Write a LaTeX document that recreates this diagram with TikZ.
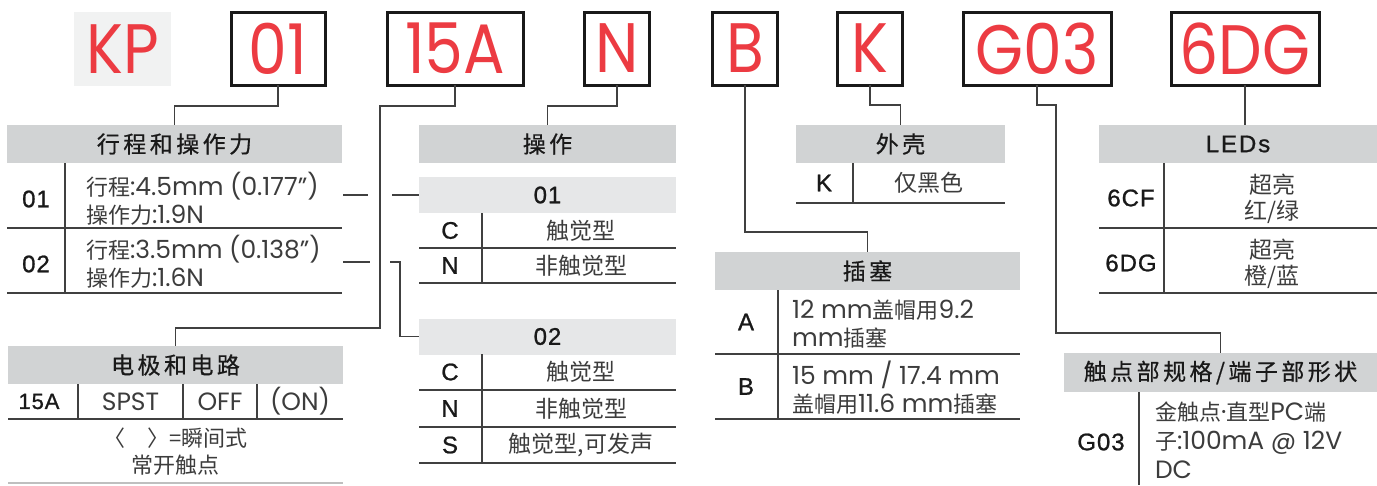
\documentclass[tikz,border=0pt]{standalone}
\usepackage{fontspec}
\usetikzlibrary{positioning}

\setmainfont{Poppins}
\newfontfamily\cjk{Noto Sans CJK SC}
\newfontfamily\cjkhdr{Noto Sans CJK SC}[LetterSpace=15, FakeBold=0.6]
\newfontfamily\codefont{Liberation Sans}[FakeBold=1, LetterSpace=4]
\newfontfamily\redfont{Poppins}[FakeStretch=0.88]
\newcommand\zh[1]{{\cjk\fontsize{22}{28}\selectfont #1}}

\definecolor{codered}{HTML}{EC3B42}
\definecolor{hdrgray}{HTML}{D1D3D4}
\definecolor{subgray}{HTML}{E6E7E8}
\definecolor{kpgray}{HTML}{F1F2F2}
\definecolor{inkgray}{HTML}{3C3C3C}
\definecolor{rulegray}{HTML}{404040}

\begin{document}
\begin{tikzpicture}[
        x=1pt, y=-1pt,
        every node/.style={inner sep=0pt, outer sep=0pt},
        codebox/.style={draw=black!90, line width=3pt, minimum height=73pt, text=codered, font=\redfont\fontsize{70}{70}\selectfont},
        hdr/.style={fill=hdrgray, minimum height=38pt, text=black!90, font=\cjkhdr\fontsize{23}{23}\selectfont},
        subhdr/.style={fill=subgray, minimum width=257pt, minimum height=36pt, text=black!90, font=\codefont\fontsize{24}{24}\selectfont},
        code/.style={text=black!90, font=\codefont\fontsize{24}{24}\selectfont},
        cell/.style={text=inkgray, align=center, font=\cjk\fontsize{23}{26}\selectfont},
        val/.style={text=inkgray, font=\fontsize{25}{25}\selectfont},
        desc/.style={text=inkgray, align=left, anchor=west, font=\fontsize{25}{28}\selectfont},
        rule/.style={draw=rulegray, line width=1.4pt},
        conn/.style={draw=rulegray, line width=1.4pt}
    ]
  \useasboundingbox (0,0) rectangle (1377,485);

  % Part number
  \node[fill=kpgray, minimum width=97pt, minimum height=74pt, text=codered, font=\redfont\fontsize{70}{70}\selectfont] (cKP) at (122.5,49) {KP};
  \node[codebox, minimum width=94pt] (c01) at (278,48.5) {01};
  \node[codebox, minimum width=136pt] (c15A) at (455,48.5) {15A};
  \node[codebox, minimum width=65pt] (cN) at (617,48.5) {N};
  \node[codebox, minimum width=65pt] (cB) at (745,48.5) {B};
  \node[codebox, minimum width=65pt] (cK) at (870,48.5) {K};
  \node[codebox, minimum width=148pt] (cG) at (1037,48.5) {G03};
  \node[codebox, minimum width=148pt] (cD) at (1245,48.5) {6DG};

  % Stroke and force
  \node[hdr, minimum width=335pt] (hStroke) at (174.5,144) {行程和操作力};
  \node[code] (k01) at (36,199) {01};
  \node[desc] (d01) at (86,199) {\zh{行程}:4.5mm (0.177”)\\\zh{操作力}:1.9N};
  \node[code] (k02) at (36,264) {02};
  \node[desc] (d02) at (86,262) {\zh{行程}:3.5mm (0.138”)\\\zh{操作力}:1.6N};
  \draw[rule] (65,163) -- (65,293);
  \draw[rule] (7,228) -- (342,228);
  \draw[rule] (7,293) -- (342,293);

  % Poles and circuit
  \node[hdr, minimum width=335pt] (hPole) at (175.5,365) {电极和电路};
  \node[code, font=\codefont\fontsize{22}{22}\selectfont] (k15A) at (39,401.5) {15A};
  \node[val] (vSPST) at (130.5,401.5) {SPST};
  \node[val] (vOFF) at (220,401.5) {OFF};
  \node[val] (vON) at (300,401.5) {(ON)};
  \node[cell, font=\cjk\fontsize{22}{27}\selectfont] (nMom) at (175.5,452) {〈　〉=瞬间式\\常开触点};
  \foreach \x in {78,183,257} \draw[rule] (\x,384) -- (\x,419);
  \draw[rule] (8,419) -- (343,419);
  \draw[draw=black!25, line width=2pt] (8,483) -- (343,483);

  % Actuator
  \node[hdr, minimum width=257pt] (hAct) at (547.5,144) {操作};
  \node[subhdr] (s01) at (547.5,195) {01};
  \node[code] (kC1) at (450,230.5) {C};
  \node[cell] (tC1) at (581,230.5) {触觉型};
  \node[code] (kN1) at (450,265.5) {N};
  \node[cell] (tN1) at (581,265.5) {非触觉型};
  \draw[rule] (482,213) -- (482,283);
  \draw[rule] (419,248) -- (676,248);
  \draw[rule] (419,283) -- (676,283);

  \node[subhdr] (s02) at (547.5,336.5) {02};
  \node[code] (kC2) at (450,372) {C};
  \node[cell] (tC2) at (581,372) {触觉型};
  \node[code] (kN2) at (450,408.5) {N};
  \node[cell] (tN2) at (581,408.5) {非触觉型};
  \node[code] (kS2) at (450,445) {S};
  \node[cell] (tS2) at (581,445) {触觉型,可发声};
  \draw[rule] (482,354) -- (482,463);
  \foreach \y in {390,427,463} \draw[rule] (419,\y) -- (676,\y);

  % Housing
  \node[hdr, minimum width=209pt] (hHousing) at (900.5,144) {外壳};
  \node[code] (kK) at (824,183) {K};
  \node[cell] (tK) at (929,183) {仅黑色};
  \draw[rule] (853,163) -- (853,203);
  \draw[rule] (796,203) -- (1005,203);

  % Plug
  \node[hdr, minimum width=305pt] (hPlug) at (867.5,271) {插塞};
  \node[code] (kA) at (746,322) {A};
  \node[desc] (dA) at (792,324) {12 mm\zh{盖帽用}9.2\\mm\zh{插塞}};
  \node[code] (kB) at (746,386.5) {B};
  \node[desc] (dB) at (792,388) {15 mm / 17.4 mm\\\zh{盖帽用}11.6 mm\zh{插塞}};
  \draw[rule] (778,290) -- (778,419);
  \draw[rule] (715,354) -- (1020,354);
  \draw[rule] (715,419) -- (1020,419);

  % LEDs
  \node[hdr, minimum width=278pt, font=\codefont\fontsize{24}{24}\selectfont\addfontfeature{LetterSpace=8}] (hLED) at (1238,144) {LEDs};
  \node[code] (k6CF) at (1131,198) {6CF};
  \node[cell] (t6CF) at (1272,199) {超亮\\红/绿};
  \node[code] (k6DG) at (1131,263) {6DG};
  \node[cell] (t6DG) at (1272,264) {超亮\\橙/蓝};
  \draw[rule] (1164,163) -- (1164,293);
  \draw[rule] (1099,228) -- (1377,228);
  \draw[rule] (1099,293) -- (1377,293);

  % Contacts and terminals
  \node[hdr, minimum width=313pt, minimum height=39pt] (hTerm) at (1220.5,372.5) {触点部规格/端子部形状};
  \node[code] (kG03) at (1101,442) {G03};
  \node[desc, font=\fontsize{25}{29}\selectfont] (dG03) at (1155,440) {\zh{金触点}·\zh{直型}PC\zh{端}\\\zh{子}:100mA @ 12V\\DC};
  \draw[rule] (1139,392) -- (1139,485);

  % Connectors
  \draw[conn] (c01.south) -- ++(0,21) -| (hStroke.north);
  \draw[conn] (c15A.south) -- ++(0,21) -| (380,328) -| (hPole.north);
  \draw[conn] (cN.south) -- ++(0,21) -| (hAct.north);
  \draw[conn] (cB.south) -- ++(0,147) -| (hPlug.north);
  \draw[conn] (cK.south) -- ++(0,20) -| (hHousing.north);
  \draw[conn] (cG.south) -- ++(0,20) -| (1056,333) -| (hTerm.north);
  \draw[conn] (cD.south) -- (cD.south |- hLED.north);

  \draw[conn] (343,195) -- (368,195);
  \draw[conn] (392,195) -- (s01.west);
  \draw[conn] (343,262) -- (370,262);
  \draw[conn] (390,262) -- (400,262) |- (s02.west);
\end{tikzpicture}
\end{document}
